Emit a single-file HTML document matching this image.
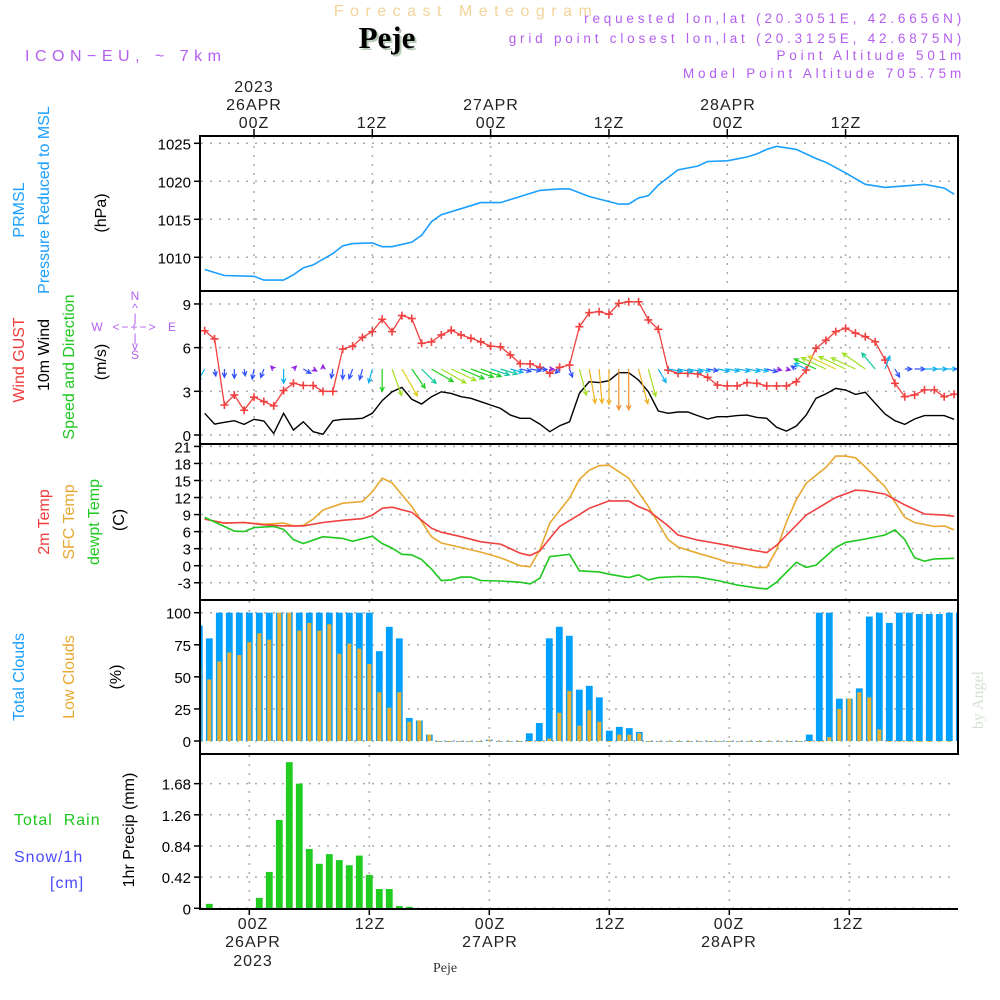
<!DOCTYPE html>
<html><head><meta charset="utf-8"><style>
html,body{margin:0;padding:0;background:#fff;}
svg{display:block;font-family:"Liberation Sans",sans-serif;}
</style></head><body>
<svg id="chart" width="1000" height="1000" viewBox="0 0 1000 1000" xmlns="http://www.w3.org/2000/svg">
<rect x="0" y="0" width="1000" height="1000" fill="#fff"/>
<defs>
<clipPath id="cU1"><rect x="200" y="136" width="758" height="155"/></clipPath>
<clipPath id="cU2"><rect x="200" y="291" width="758" height="153"/></clipPath>
<clipPath id="cU3"><rect x="200" y="444" width="758" height="156"/></clipPath>
<clipPath id="cL4"><rect x="201" y="600" width="757" height="154"/></clipPath>
<clipPath id="cL5"><rect x="201" y="754" width="757" height="155"/></clipPath>
</defs>
<!-- titles -->
<text x="466" y="16" text-anchor="middle" font-size="16" letter-spacing="6.5" fill="#f3d49a">Forecast Meteogram</text>
<text x="389" y="50" text-anchor="middle" font-family="Liberation Serif,serif" font-weight="bold" font-size="31" fill="#b8cdb8">Peje</text>
<text x="387" y="48" text-anchor="middle" font-family="Liberation Serif,serif" font-weight="bold" font-size="31" fill="#000">Peje</text>
<text x="25" y="61" font-size="16" letter-spacing="5.5" fill="#b45ef0">ICON−EU, ~ 7km</text>
<g font-size="13.5" letter-spacing="3.8" fill="#b45ef0" text-anchor="end">
<text x="965" y="23">requested lon,lat (20.3051E, 42.6656N)</text>
<text x="965" y="43">grid point closest lon,lat (20.3125E, 42.6875N)</text>
<text x="965" y="60">Point Altitude 501m</text>
<text x="965" y="78">Model Point Altitude 705.75m</text>
</g>
<!-- top time axis labels -->
<g font-size="16" letter-spacing="1" fill="#222" text-anchor="middle">
<text x="254" y="92">2023</text><text x="254" y="110">26APR</text><text x="254" y="128">00Z</text>
<text x="372" y="128">12Z</text>
<text x="491" y="110">27APR</text><text x="491" y="128">00Z</text>
<text x="609" y="128">12Z</text>
<text x="728" y="110">28APR</text><text x="728" y="128">00Z</text>
<text x="846" y="128">12Z</text>
</g>
<g font-size="16" letter-spacing="1" fill="#222" text-anchor="middle">
<text x="253" y="929">00Z</text><text x="370" y="929">12Z</text><text x="490" y="929">00Z</text>
<text x="610" y="929">12Z</text><text x="729" y="929">00Z</text><text x="848" y="929">12Z</text>
<text x="253" y="947">26APR</text><text x="490" y="947">27APR</text><text x="729" y="947">28APR</text>
<text x="253" y="966">2023</text>
</g>
<text x="445" y="972" text-anchor="middle" font-family="Liberation Serif,serif" font-size="14" fill="#333">Peje</text>
<!-- left rotated labels -->
<g font-size="16" text-anchor="middle">
<text transform="translate(24,210) rotate(-90)" fill="#1a9fff">PRMSL</text>
<text transform="translate(49,200) rotate(-90)" fill="#1a9fff">Pressure Reduced to MSL</text>
<text transform="translate(106,213) rotate(-90)" fill="#000">(hPa)</text>
<text transform="translate(24,360) rotate(-90)" fill="#f03c3c">Wind GUST</text>
<text transform="translate(49,355) rotate(-90)" fill="#000">10m Wind</text>
<text transform="translate(74,367) rotate(-90)" fill="#1ec81e">Speed and Direction</text>
<text transform="translate(106,362) rotate(-90)" fill="#000">(m/s)</text>
<text transform="translate(49,522) rotate(-90)" fill="#f03c3c">2m Temp</text>
<text transform="translate(74,522) rotate(-90)" fill="#e8a830">SFC Temp</text>
<text transform="translate(99,522) rotate(-90)" fill="#1ec81e">dewpt Temp</text>
<text transform="translate(124,520) rotate(-90)" fill="#000">(C)</text>
<text transform="translate(24,677) rotate(-90)" fill="#1a9fff">Total Clouds</text>
<text transform="translate(74,677) rotate(-90)" fill="#e8a830">Low Clouds</text>
<text transform="translate(121,677) rotate(-90)" fill="#000">(%)</text>
<text transform="translate(134,830) rotate(-90)" fill="#000">1hr Precip (mm)</text>
</g>
<text x="14" y="825" font-size="16" letter-spacing="1" fill="#1ec81e" xml:space="preserve">Total  Rain</text>
<text x="14" y="862" font-size="16" letter-spacing="1" fill="#4a4aff">Snow/1h</text>
<text x="50" y="888" font-size="16" letter-spacing="1" fill="#4a4aff">[cm]</text>
<g fill="#b45ef0" font-size="12" text-anchor="middle">
<text x="135" y="300">N</text><text x="135" y="312">^</text><text x="135" y="322">|</text>
<text x="135" y="331" letter-spacing="2">&lt;−+−&gt;</text><text x="97" y="331">W</text><text x="172" y="331">E</text>
<text x="135" y="342">|</text><text x="135" y="350">v</text><text x="135" y="359">S</text>
</g>
<text transform="translate(983,700) rotate(-90)" text-anchor="middle" font-family="Liberation Serif,serif" font-size="16" fill="#d6e2d6">by Angel</text>
<g id="grid"></g>
<g id="marks"></g>
<g id="frames" fill="none" stroke="#000" stroke-width="2">
<rect x="200" y="136" width="758" height="155"/>
<rect x="200" y="291" width="758" height="153"/>
<rect x="200" y="444" width="758" height="156"/>
<rect x="200" y="600" width="758" height="154"/>
<path d="M200 754 V909 H958"/>
</g>
<g id="ticks"></g>
</svg>
<script>
// ---- data (upper panels: hourly from -5h to +71h relative to 26APR 00Z) ----
const pressHours=[-5,-3,0,1,3,4,5,6,8,9,10,12,13,14,16,17,18,19,21,23,25,27,29,31,32,33,34,37,38,39,40,41,43,45,46,48,50,51,52,53,55,57,58,60,62,64,66,68,70,71];
const pressVals=[1008.4,1007.6,1007.5,1007.0,1007.0,1007.7,1008.6,1009.0,1010.5,1011.5,1011.8,1011.9,1011.4,1011.4,1012.0,1012.9,1014.7,1015.6,1016.4,1017.2,1017.2,1018.0,1018.8,1019.0,1019.0,1018.5,1018.0,1017.0,1017.0,1017.8,1018.1,1019.5,1021.5,1022.0,1022.6,1022.7,1023.2,1023.6,1024.2,1024.6,1024.2,1023.0,1022.5,1021.1,1019.6,1019.2,1019.4,1019.6,1019.1,1018.3];
const gustVals=[7.16,6.6,2.06,2.75,1.7,2.6,2.3,2.0,3.05,3.55,3.4,3.4,3.0,3.0,5.9,6.1,6.7,7.1,7.95,7.1,8.2,8.0,6.3,6.4,6.87,7.2,6.87,6.64,6.4,6.1,6.06,5.5,4.9,4.88,4.65,4.24,4.65,4.8,7.44,8.4,
8.47,8.3,9.04,9.15,9.15,7.9,7.26,4.46,4.24,4.24,4.2,3.96,3.43,3.37,3.37,3.6,3.55,3.37,3.37,3.37,3.66,4.46,5.95,6.5,7.1,7.33,7.0,6.75,6.4,5.15,3.55,2.63,2.75,3.1,3.1,2.63,2.8];
const windVals=[1.49,0.75,0.87,0.98,0.73,1.08,0.96,0.11,1.49,0.34,0.91,0.23,0.05,0.98,1.08,1.1,1.15,1.49,2.36,2.97,3.27,2.45,2.13,2.63,2.97,2.86,2.63,2.52,2.29,2.06,1.83,1.37,1.15,1.15,0.75,0.23,0.64,0.91,2.86,3.66,
3.6,3.73,4.28,4.28,3.78,2.97,1.65,1.49,1.58,1.58,1.33,1.1,1.26,1.26,1.33,1.37,1.21,1.15,0.53,0.27,0.62,1.37,2.52,2.82,3.2,3.09,2.79,2.93,2.18,1.44,0.98,0.73,1.1,1.33,1.33,1.33,1.08];
const windDir=[30,350,0,0,350,10,20,135,0,225,300,300,180,10,0,20,15,15,0,340,330,325,315,300,300,295,293,290,290,288,287,285,282,280,275,272,45,340,345,350,355,0,0,0,345,345,330,280,280,280,280,280,280,280,280,280,280,285,285,285,120,115,115,115,115,115,115,125,140,200,330,270,270,270,270,270,270];
const t2mHours=[-5,-3,-1,1,3,5,7,9,11,12,13,14,16,17,18,19,21,23,25,27,28,29,30,31,33,34,36,38,39,40,42,43,45,47,48,50,52,53,56,59,61,62,64,66,68,70,71];
const t2mVals=[8.2,7.5,7.6,7.2,7.0,7.0,7.6,8.0,8.3,8.9,10.1,10.3,9.4,8.0,6.6,5.9,5.1,4.2,3.8,2.2,1.8,2.6,4.8,6.9,9.0,10.1,11.4,11.4,10.4,9.7,7.0,5.4,4.5,3.9,3.6,2.9,2.3,3.6,8.9,12.0,13.3,13.2,12.6,10.7,9.1,8.9,8.7];
const sfcHours=[-5,-3,-1,1,3,4,5,6,7,9,11,12,13,14,16,18,19,21,23,25,27,28,29,30,32,33,34,35,36,38,40,42,43,45,47,48,50,51,52,53,54,55,56,58,59,60,61,62,64,66,67,69,70,71];
const sfcVals=[8.2,7.5,7.6,7.3,7.5,7.0,7.1,8.2,9.8,11.0,11.3,13.0,15.4,14.6,10.4,5.1,4.0,3.2,2.4,1.4,0.0,-0.2,2.8,7.5,11.9,15.2,16.8,17.6,17.7,15.4,10.4,4.6,3.3,2.2,1.2,0.6,0.1,-0.3,-0.3,2.8,7.7,11.6,14.5,17.3,19.3,19.3,19.0,17.4,13.9,8.5,7.6,6.9,7.0,6.3];
const dewHours=[-5,-3,-2,-1,0,2,3,4,5,7,9,10,12,13,14,15,16,17,18,19,20,21,22,23,25,27,28,29,30,32,33,35,36,38,39,40,41,43,45,47,49,51,52,53,55,56,57,59,60,62,64,65,66,67,68,69,71];
const dewVals=[8.5,6.9,6.1,6.0,6.7,6.9,6.4,4.6,3.9,5.1,4.8,4.3,5.2,3.9,3.1,2.0,1.9,1.1,-0.6,-2.6,-2.5,-2.0,-2.0,-2.6,-2.7,-2.9,-3.2,-2.2,1.6,2.0,-0.9,-1.1,-1.5,-2.1,-1.6,-2.5,-2.1,-1.9,-2.0,-2.6,-3.4,-3.9,-4.1,-2.9,0.6,-0.3,0.1,3.2,4.1,4.7,5.4,6.3,4.6,1.4,0.8,1.2,1.3];
// ---- data (lower panels: hourly from -5h) ----
const totalCloud=[90,80,100,100,100,100,100,100,100,100,100,100,100,100,100,100,100,100,70,89,80,18,16,5,0,0,0,0,0,1,0,0,0,6,14,80,89,82,40,43,34,8,11,10,7,0,0,0,0,0,0,0,0,0,0,0,0,0,0,0,0,5,100,100,33,33,41,97,100,92,100,100,99,99,99,100,100];
const lowCloud=[58,48,62,69,67,77,84,79,100,100,86,92,86,91,68,76,72,60,38,26,38,15,16,5,0,0,0,0,0,1,0,0,0,0,0,2,22,39,12,24,15,0,5,5,6,0,0,0,0,0,0,0,0,0,0,0,0,0,0,0,0,0,0,3,25,33,38,34,9,0,0,0,0,0,0,0,0];
const precipVals=[0,0.06,0,0,0,0,0.14,0.49,1.19,1.97,1.68,0.80,0.60,0.73,0.65,0.58,0.71,0.45,0.26,0.26,0.03,0.02];
const pressTicks=[1010,1015,1020,1025];
const windTicks=[0,3,6,9];
const tempTicks=[-3,0,3,6,9,12,15,18,21];
const cloudTicks=[0,25,50,75,100];
const precipTicks=[0,0.42,0.84,1.26,1.68];
const timeGrid=[0,12,24,36,48,60];

// ---- scales ----
const xU=h=>254+9.86*h;
const xL=h=>249.3+10*h;
const yP=v=>143.3+(1025-v)*7.6;
const yW=v=>435-v*14.56;
const yT=v=>565.7-v*5.68;
const yC=v=>741-v*1.283;
const yR=v=>908.3-v*74.2;
const NS='http://www.w3.org/2000/svg';
const grid=document.getElementById('grid');
const marks=document.getElementById('marks');
const ticksG=document.getElementById('ticks');
function mk(tag,attrs,parent){const e=document.createElementNS(NS,tag);for(const k in attrs)e.setAttribute(k,attrs[k]);parent.appendChild(e);return e;}

function hgrid(vals,ys,name,fmt){
  vals.forEach(v=>{
    const y=ys(v);
    const l=mk('line',{x1:201,x2:957,y1:y,y2:y,stroke:'#aaa','stroke-width':1.5,'stroke-dasharray':'2,7'},grid);
    
    
    const t=mk('line',{x1:194,x2:200,y1:y,y2:y,stroke:'#000','stroke-width':1.5},ticksG);
    
    
    const tx=mk('text',{x:191,y:y+6,'text-anchor':'end','font-size':15,fill:'#000'},ticksG);
    tx.textContent=fmt(v);
    
    
  });
}
hgrid(pressTicks,yP,'pressure',v=>v);
hgrid(windTicks,yW,'wind',v=>v);
hgrid(tempTicks,yT,'temp',v=>v);
hgrid(cloudTicks,yC,'cloud',v=>v);
hgrid(precipTicks,yR,'precip',v=>v===0?'0':v.toFixed(2));
timeGrid.forEach(h=>{
  [[137,443,xU],[445,599,xU],[601,753,xL],[755,908,xL]].forEach(([a,b,f])=>{
    const l=mk('line',{x1:f(h),x2:f(h),y1:a,y2:b,stroke:'#aaa','stroke-width':1.5,'stroke-dasharray':'2,7'},grid);
    
    
  });
  const t=mk('line',{x1:xU(h),x2:xU(h),y1:129,y2:136,stroke:'#000','stroke-width':1.5},ticksG);
  
  
  const b=mk('line',{x1:xL(h),x2:xL(h),y1:909,y2:915,stroke:'#000','stroke-width':1.5},ticksG);
  
  
});

function line(hours,vals,xs,ys,color,name,clip,w){
  const d=hours.map((h,i)=>(i?'L':'M')+xs(h).toFixed(1)+' '+ys(vals[i]).toFixed(1)).join(' ');
  const p=mk('path',{d:d,fill:'none',stroke:color,'stroke-width':w||1.6,'clip-path':'url(#'+clip+')'},marks);
  
  
}
const hourly=n=>{const a=[];for(let i=0;i<n;i++)a.push(i-5);return a;};

line(pressHours,pressVals,xU,yP,'#1a9fff','pressure-line','cU1');
const gH=hourly(gustVals.length);
line(gH,gustVals,xU,yW,'#f04040','gust-line','cU2',1.3);
gustVals.forEach((v,i)=>{
  const x=xU(gH[i]),y=yW(v);
  const m=mk('path',{d:`M${x-4} ${y} H${x+4} M${x} ${y-4} V${y+4}`,stroke:'#f04040','stroke-width':1.6,fill:'none'},marks);
  
  
});
const wH=hourly(windVals.length);
line(wH,windVals,xU,yW,'#000','wind-speed-line','cU2',1.4);
function spdColor(s){
  if(s<0.6)return '#9020e0';if(s<1.2)return '#3050ff';if(s<1.8)return '#10b0f0';
  if(s<2.2)return '#10c8a0';if(s<2.7)return '#20d020';if(s<3.1)return '#a0e020';
  if(s<3.6)return '#e0d020';if(s<4.0)return '#f0b020';return '#f09030';
}
windDir.forEach((d,i)=>{
  const s=windVals[i];const L=Math.max(4,s*9.5);
  const to=(d+180)*Math.PI/180;
  const x0=xU(i-5),y0=369;
  const x1=x0+L*Math.sin(to),y1=y0-L*Math.cos(to);
  const ang=Math.atan2(y1-y0,x1-x0);
  const hl=5;
  const ax=x1-hl*Math.cos(ang-0.45),ay=y1-hl*Math.sin(ang-0.45);
  const bx=x1-hl*Math.cos(ang+0.45),by=y1-hl*Math.sin(ang+0.45);
  const a=mk('path',{d:`M${x0.toFixed(1)} ${y0} L${x1.toFixed(1)} ${y1.toFixed(1)} M${ax.toFixed(1)} ${ay.toFixed(1)} L${x1.toFixed(1)} ${y1.toFixed(1)} L${bx.toFixed(1)} ${by.toFixed(1)}`,stroke:spdColor(s),'stroke-width':1.2,fill:'none','clip-path':'url(#cU2)'},marks);
  
  
});
line(sfcHours,sfcVals,xU,yT,'#e8a830','sfc-temp-line','cU3');
line(t2mHours,t2mVals,xU,yT,'#f04040','temp-2m-line','cU3');
line(dewHours,dewVals,xU,yT,'#1ec81e','dewpoint-line','cU3');
totalCloud.forEach((v,i)=>{
  const x=xL(i-5);
  const r=mk('rect',{x:x-3.4,y:yC(v),width:6.8,height:Math.max(0.8,yC(0)-yC(v)),fill:'#00a0ff','clip-path':'url(#cL4)'},marks);
  
  
});
lowCloud.forEach((v,i)=>{
  const x=xL(i-5);
  const r=mk('rect',{x:x-2,y:yC(v),width:4,height:Math.max(0.8,yC(0)-yC(v)),fill:'#e8b030','clip-path':'url(#cL4)'},marks);
  
  
});
precipVals.forEach((v,i)=>{
  if(v<=0)return;
  const x=xL(i-5);
  const r=mk('rect',{x:x-3.4,y:yR(v),width:6.8,height:yR(0)-yR(v),fill:'#20cc20','clip-path':'url(#cL5)'},marks);
  
  
});
</script>
</body></html>
